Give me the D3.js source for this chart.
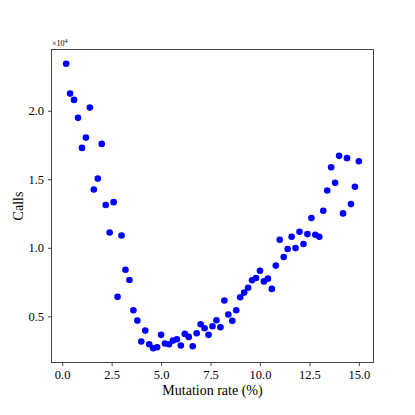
<!DOCTYPE html>
<html>
<head>
<meta charset="utf-8">
<script src="https://cdn.jsdelivr.net/npm/d3@7"></script>
<style>
  body { margin: 0; background: #fff; }
  text { font-family: "Liberation Serif", "DejaVu Serif", serif; fill: #000; }
</style>
</head>
<body>
<div id="chart"></div>
<script>

// mutation rate (%) for each run
const rates = [
    0.2, 0.4, 0.6, 0.8, 1.0, 1.2, 1.4, 1.6, 1.8, 2.0,
    2.2, 2.4, 2.6, 2.8, 3.0, 3.2, 3.4, 3.6, 3.8, 4.0,
    4.2, 4.4, 4.6, 4.8, 5.0, 5.2, 5.4, 5.6, 5.8, 6.0,
    6.2, 6.4, 6.6, 6.8, 7.0, 7.2, 7.4, 7.6, 7.8, 8.0,
    8.2, 8.4, 8.6, 8.8, 9.0, 9.2, 9.4, 9.6, 9.8, 10.0,
    10.2, 10.4, 10.6, 10.8, 11.0, 11.2, 11.4, 11.6, 11.8, 12.0,
    12.2, 12.4, 12.6, 12.8, 13.0, 13.2, 13.4, 13.6, 13.8, 14.0,
    14.2, 14.4, 14.6, 14.8, 15.0
];

// number of calls for each run
const calls = [
    23430, 21250, 20790, 19480, 17290, 18040, 20230, 14250, 15050, 17580,
    13120, 11120, 13330, 6420, 10900, 8400, 7650, 5440, 4690, 3160,
    3960, 2960, 2670, 2750, 3650, 3020, 2960, 3230, 3330, 2870,
    3720, 3500, 2820, 3770, 4420, 4130, 3650, 4280, 4710, 4200,
    6150, 5130, 4670, 5440, 6390, 6730, 7090, 7630, 7800, 8330,
    7550, 7750, 7000, 8700, 10590, 9330, 9910, 10810, 9980, 11170,
    10280, 11000, 12170, 10950, 10810, 12700, 14180, 15880, 14740, 16710,
    12510, 16540, 13190, 14450, 16320
];

const xTicks = [0, 2.5, 5, 7.5, 10, 12.5, 15];
const yTicks = [5000, 10000, 15000, 20000];

const width = 415, height = 415;
const margin = {top: 49.5, right: 41.5, bottom: 52.5, left: 51.5};

let svg = d3.select("#chart").append("svg")
    .attr("width", width)
    .attr("height", height);

// matplotlib-like 5% padding around the data
function padded(values) {
    let ext = d3.extent(values);
    let pad = (ext[1] - ext[0]) * 0.05;
    return [ext[0] - pad, ext[1] + pad];
}

let x = d3.scaleLinear()
    .domain(padded(rates))
    .range([margin.left, width - margin.right]);

let y = d3.scaleLinear()
    .domain(padded(calls))
    .range([height - margin.bottom, margin.top]);

//axes
let xAxis = svg.append("g")
    .attr("transform", "translate(0," + (height - margin.bottom) + ")")
    .call(d3.axisBottom(x).tickValues(xTicks).tickFormat(d3.format(".1f"))
        .tickSizeInner(3.5).tickSizeOuter(0).tickPadding(4));

let yAxis = svg.append("g")
    .attr("transform", "translate(" + margin.left + ",0)")
    .call(d3.axisLeft(y).tickValues(yTicks).tickFormat((d) => d3.format(".1f")(d / 1e4))
        .tickSizeInner(3.5).tickSizeOuter(0).tickPadding(4));

[xAxis, yAxis].forEach((g) => {
    g.select(".domain").remove();
    g.selectAll(".tick line").attr("stroke", "#333").attr("stroke-width", 0.9);
    g.selectAll(".tick text")
        .style("font-family", "'Liberation Serif', serif")
        .style("font-size", "12.5px")
        .attr("fill", "#000");
});

//frame
svg.append("rect")
    .attr("x", margin.left)
    .attr("y", margin.top)
    .attr("width", width - margin.left - margin.right)
    .attr("height", height - margin.top - margin.bottom)
    .attr("fill", "none")
    .attr("stroke", "#333")
    .attr("stroke-width", 0.9);

//points
svg.append("g").selectAll("circle")
    .data(rates.map((r, i) => ({rate: r, calls: calls[i]})))
    .enter().append("circle")
    .attr("cx", (d) => x(d.rate))
    .attr("cy", (d) => y(d.calls))
    .attr("r", 3.3)
    .attr("fill", "#0000ff");

//labels
svg.append("text")
    .attr("x", (margin.left + width - margin.right) / 2)
    .attr("y", 395)
    .attr("text-anchor", "middle")
    .style("font-size", "14px")
    .text("Mutation rate (%)");

svg.append("text")
    .attr("transform", "translate(23," + ((margin.top + height - margin.bottom) / 2) + ") rotate(-90)")
    .attr("text-anchor", "middle")
    .style("font-size", "14px")
    .text("Calls");

let offset = svg.append("text")
    .attr("x", margin.left + 0.5)
    .attr("y", 46)
    .style("font-size", "8px");
offset.append("tspan").text("\u00d710");
offset.append("tspan").attr("dy", -3).style("font-size", "6px").text("4");

</script>
</body>
</html>
